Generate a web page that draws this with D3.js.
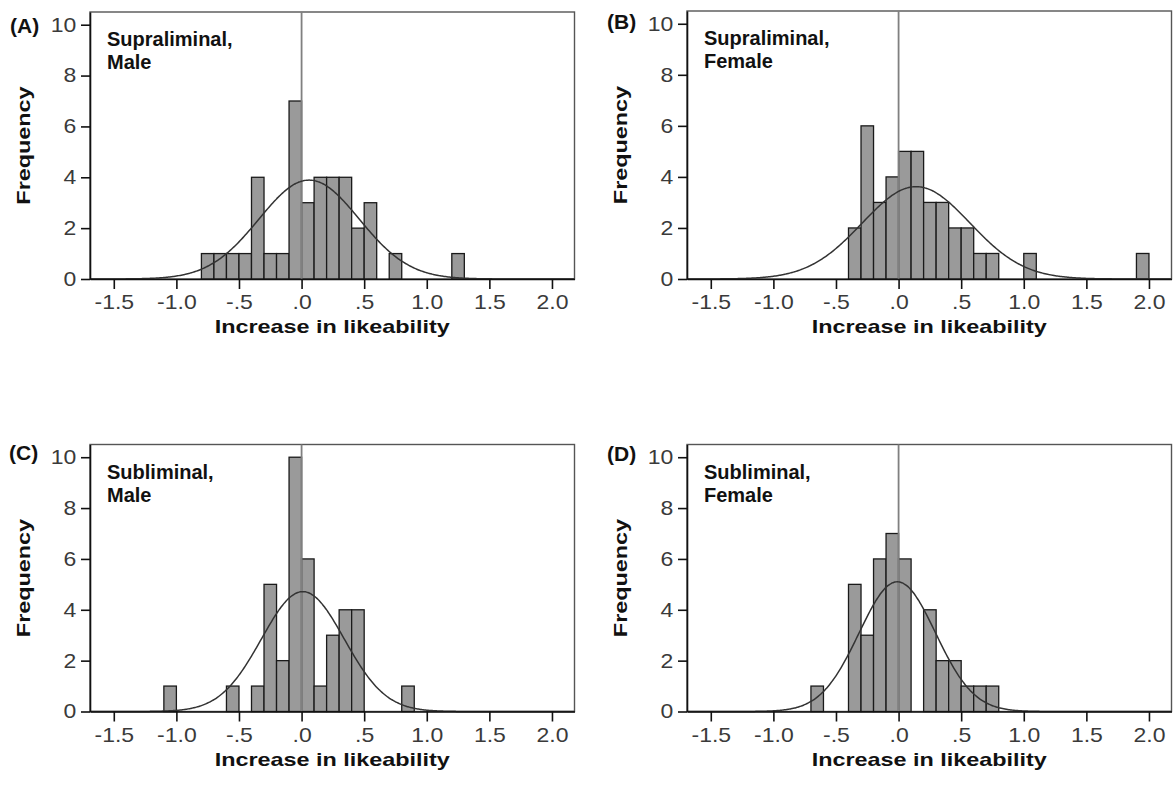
<!DOCTYPE html>
<html><head><meta charset="utf-8">
<script src="https://cdn.jsdelivr.net/npm/d3@7"></script>
<style>body{margin:0;background:#fff;} svg{display:block;font-family:"Liberation Sans",Arial,sans-serif;}</style>
</head><body><svg id="chart" width="1174" height="794"></svg>
<script>
// ---------------- data ----------------
const binWidth = 0.1;
const panelLetters = ["(A)", "(B)", "(C)", "(D)"];
const panelTitles = [["Supraliminal,", "Male"], ["Supraliminal,", "Female"], ["Subliminal,", "Male"], ["Subliminal,", "Female"]];
const binStarts = [-0.8, -0.4, -1.1, -0.7];
const countsA = [1,1,1,1,4,1,1,7,3,4,4,4,2,3,0,1,0,0,0,0,1];
const countsB = [2,6,3,4,5,5,3,3,2,2,1,1,0,0,1,0,0,0,0,0,0,0,0,1];
const countsC = [1,0,0,0,0,1,0,1,5,2,10,6,1,3,4,4,0,0,0,1];
const countsD = [1,0,0,5,3,6,7,6,0,4,2,2,1,1,1];
const curveMeans = [0.06, 0.14, 0.01, -0.01];
const curveSDs = [0.40, 0.43, 0.33, 0.305];
const xTicks = [-1.5, -1.0, -0.5, 0, 0.5, 1.0, 1.5, 2.0];
const xTickLabels = ["-1.5", "-1.0", "-.5", ".0", ".5", "1.0", "1.5", "2.0"];
const yTicks = [0, 2, 4, 6, 8, 10];
const xDomain = [-1.69, 2.18];
const yDomain = [0, 10.5];
const xTitle = "Increase in likeability";
const yTitle = "Frequency";

const allCounts = [countsA, countsB, countsC, countsD];

// ---------------- layout ----------------
const panels = [
  {x0: 90,  x1: 574.5,  y0: 12,    y1: 279},
  {x0: 687, x1: 1171.5, y0: 11,    y1: 279},
  {x0: 90,  x1: 574.5,  y0: 444.5, y1: 711.5},
  {x0: 687, x1: 1171.5, y0: 444.5, y1: 711.5}
];
const letterPos = [[10, 33], [607, 29], [9, 460], [607, 461]];
const TICK_SX = 1.15, TITLE_SX = 1.3;

const svg = d3.select("#chart");

panels.forEach((p, k) => {
  const counts = allCounts[k];
  const xs = d3.scaleLinear().domain(xDomain).range([p.x0, p.x1]);
  const ys = d3.scaleLinear().domain(yDomain).range([p.y1, p.y0]);
  const g = svg.append("g");

  // frame
  g.append("rect").attr("x", p.x0).attr("y", p.y0)
    .attr("width", p.x1 - p.x0).attr("height", p.y1 - p.y0)
    .attr("fill", "#fff").attr("stroke", "#555").attr("stroke-width", 1.4);

  // bars
  const bins = counts.map((c, i) => {
    const lo = (Math.round(binStarts[k] * 10) + i) / 10;
    return {lo: lo, hi: lo + binWidth, c: c};
  }).filter(d => d.c > 0);
  g.selectAll("rect.bar").data(bins).enter().append("rect").attr("class", "bar")
    .attr("x", d => xs(d.lo)).attr("width", d => xs(d.hi) - xs(d.lo))
    .attr("y", d => ys(d.c)).attr("height", d => ys(0) - ys(d.c))
    .attr("fill", "#9a9a9a").attr("stroke", "#1a1a1a").attr("stroke-width", 1.3);

  // zero reference line
  g.append("line").attr("x1", xs(0)).attr("x2", xs(0)).attr("y1", p.y0).attr("y2", p.y1)
    .attr("stroke", "#808080").attr("stroke-width", 1.8);

  // normal curve
  const N = d3.sum(counts);
  const mu = curveMeans[k], sd = curveSDs[k];
  const pts = d3.range(xDomain[0], xDomain[1] + 0.001, 0.01).map(x =>
    [x, N * binWidth * Math.exp(-0.5 * ((x - mu) / sd) ** 2) / (sd * Math.sqrt(2 * Math.PI))]);
  g.append("path").datum(pts)
    .attr("d", d3.line().x(d => xs(d[0])).y(d => ys(d[1])).curve(d3.curveBasis))
    .attr("fill", "none").attr("stroke", "#333").attr("stroke-width", 1.5);

  // axes
  const ax = g.append("g").attr("transform", `translate(0,${p.y1})`)
    .call(d3.axisBottom(xs).tickValues(xTicks).tickFormat((d, i) => xTickLabels[i])
      .tickSize(10).tickSizeOuter(0).tickPadding(6));
  const ay = g.append("g").attr("transform", `translate(${p.x0},0)`)
    .call(d3.axisLeft(ys).tickValues(yTicks).tickFormat(d3.format("d"))
      .tickSize(9).tickSizeOuter(0).tickPadding(3));
  [ax, ay].forEach(a => {
    a.select(".domain").attr("stroke", "#111").attr("stroke-width", 1.6);
    a.selectAll(".tick line").attr("stroke", "#111").attr("stroke-width", 1.6);
    a.selectAll(".tick text").attr("font-size", 20).attr("fill", "#3a3a3a")
      .attr("font-family", "Liberation Sans, Arial, sans-serif")
      .attr("transform", `scale(${TICK_SX},1)`);
  });

  // axis titles
  g.append("text").attr("transform", `translate(${(p.x0 + p.x1) / 2},${p.y1 + 54}) scale(${TITLE_SX},1)`)
    .attr("text-anchor", "middle").attr("font-weight", "bold").attr("font-size", 18)
    .attr("fill", "#111").text(xTitle);
  g.append("text").attr("transform", `translate(${p.x0 - 60},${(p.y0 + p.y1) / 2}) rotate(-90) scale(${TITLE_SX},1)`)
    .attr("text-anchor", "middle").attr("font-weight", "bold").attr("font-size", 18)
    .attr("fill", "#111").text(yTitle);

  // panel title
  panelTitles[k].forEach((t, j) => {
    g.append("text").attr("x", p.x0 + 17).attr("y", p.y0 + 34 + j * 23)
      .attr("font-weight", "bold").attr("font-size", 20).attr("fill", "#111").text(t);
  });

  // panel letter
  g.append("text").attr("x", letterPos[k][0]).attr("y", letterPos[k][1])
    .attr("font-weight", "bold").attr("font-size", 21).attr("fill", "#111").text(panelLetters[k]);
});
</script>
</body></html>
